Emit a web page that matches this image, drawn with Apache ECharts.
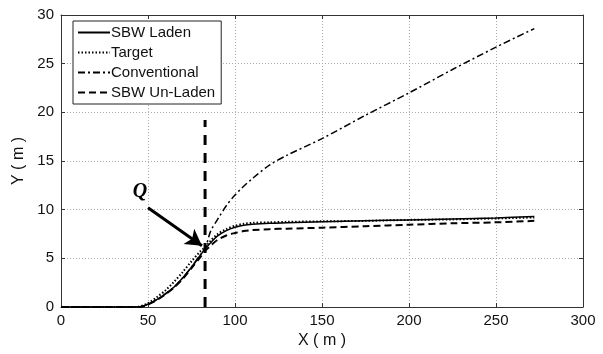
<!DOCTYPE html>
<html><head><meta charset="utf-8">
<script src="https://cdn.jsdelivr.net/npm/echarts@6/dist/echarts.min.js"></script>
<style>html,body{margin:0;padding:0;background:#fff}#c{width:603px;height:354px}</style>
</head><body><div id="c"></div>
<script>
var xs = [0, 40, 45, 50, 55, 60, 65, 70, 75, 80, 83, 86, 90, 95, 100, 105, 110, 120, 130, 150, 175, 200, 225, 250, 272];
var laden = [0, 0, 0, 0.3, 0.75, 1.35, 2.05, 3.0, 4.1, 5.3, 6.0, 6.6, 7.3, 7.85, 8.2, 8.4, 8.5, 8.6, 8.65, 8.75, 8.85, 8.95, 9.05, 9.15, 9.3];
var target = [0, 0, 0.05, 0.4, 1.0, 1.7, 2.6, 3.6, 4.7, 5.7, 6.15, 6.8, 7.5, 8.0, 8.35, 8.55, 8.65, 8.7, 8.75, 8.8, 8.85, 8.95, 9.0, 9.1, 9.2];
var conventional = [0, 0, 0, 0.3, 0.75, 1.35, 2.05, 3.0, 4.1, 5.35, 6.1, 7.8, 9.0, 10.4, 11.5, 12.4, 13.2, 14.6, 15.6, 17.3, 19.7, 22.0, 24.4, 26.7, 28.6];
var unladen = [0, 0, 0, 0.25, 0.7, 1.3, 2.0, 2.9, 4.0, 5.1, 5.8, 6.3, 6.9, 7.35, 7.6, 7.8, 7.9, 8.0, 8.05, 8.15, 8.3, 8.45, 8.6, 8.7, 8.85];
var seriesNames = ['SBW Laden', 'Target', 'Conventional', 'SBW Un-Laden'];
var xTicks = [0, 50, 100, 150, 200, 250, 300];
var yTicks = [0, 5, 10, 15, 20, 25, 30];
var markerX = 82.8, markerTop = 19.2;
var arrowFrom = [50, 10.2], arrowTo = [81, 6.3];
var qPos = [45.4, 11.8];

function pair(a, b) { return a.map(function (v, i) { return [v, b[i]]; }); }
var font = 'Liberation Sans, Arial, sans-serif';
var chart = echarts.init(document.getElementById('c'));
function mkX(pos, lab) {
  return {type: 'value', min: xTicks[0], max: xTicks[xTicks.length - 1], interval: 50, position: pos,
    axisLine: {show: true, onZero: false, lineStyle: {color: '#333', width: 1}},
    axisTick: {show: true, inside: true, length: 4, lineStyle: {color: '#333'}},
    axisLabel: {show: lab, color: '#111', fontSize: 15, fontFamily: font, margin: 6},
    splitLine: {show: lab, lineStyle: {type: [1, 2], color: '#aaa', width: 1}},
    name: lab ? 'X ( m )' : '', nameLocation: 'middle', nameGap: 26,
    nameTextStyle: {color: '#111', fontSize: 16, fontFamily: font}};
}
function mkY(pos, lab) {
  return {type: 'value', min: yTicks[0], max: yTicks[yTicks.length - 1], interval: 5, position: pos,
    axisLine: {show: true, onZero: false, lineStyle: {color: '#333', width: 1}},
    axisTick: {show: true, inside: true, length: 4, lineStyle: {color: '#333'}},
    axisLabel: {show: lab, color: '#111', fontSize: 15, fontFamily: font, margin: 7},
    splitLine: {show: lab, lineStyle: {type: [1, 2], color: '#aaa', width: 1}},
    name: lab ? 'Y ( m )' : '', nameLocation: 'middle', nameGap: 30,
    nameTextStyle: {color: '#111', fontSize: 16, fontFamily: font}};
}
var styles = [
  {type: 'solid', width: 1.5},
  {type: [1.5, 2], width: 2},
  {type: [7, 3, 2, 3], width: 1.5},
  {type: [7, 4], width: 2}
];
var datas = [laden, target, conventional, unladen];
var series = datas.map(function (d, i) {
  return {name: seriesNames[i], type: 'line', data: pair(xs, d), smooth: 0.3, symbol: 'none',
    itemStyle: {color: '#000', opacity: 0},
    lineStyle: {color: '#000', type: styles[i].type, width: styles[i].width, opacity: 1}, z: 5 - i};
});
series.push({name: 'marker', type: 'line', data: [[markerX, 0], [markerX, markerTop]], symbol: 'none',
  lineStyle: {color: '#000', type: [10, 8], width: 3}, z: 6,
  markLine: {silent: true, animation: false, symbol: ['none', 'arrow'], symbolSize: [14, 16],
    lineStyle: {color: '#000', type: 'solid', width: 3}, label: {show: false},
    data: [[{coord: arrowFrom}, {coord: arrowTo}]]},
  markPoint: {silent: true, symbol: 'circle', symbolSize: 0,
    label: {show: true, formatter: 'Q', color: '#000', fontSize: 20, fontStyle: 'italic', fontWeight: 'bold',
      fontFamily: 'Liberation Serif, Times New Roman, serif'},
    data: [{coord: qPos}]}
});
chart.setOption({
  animation: false,
  backgroundColor: '#fff',
  grid: {left: 61, right: 20, top: 15, bottom: 43},
  xAxis: [mkX('bottom', true), mkX('top', false)],
  yAxis: [mkY('left', true), mkY('right', false)],
  legend: {data: seriesNames, orient: 'vertical', left: 73, top: 21, itemWidth: 32, itemHeight: 10, itemGap: 5,
    backgroundColor: '#fff', borderColor: '#222', borderWidth: 1, padding: [4, 6, 4, 4],
    itemStyle: {opacity: 0},
    textStyle: {color: '#111', fontSize: 15, fontFamily: font, padding: [0, 0, 0, -4]}},
  series: series
});
</script></body></html>
